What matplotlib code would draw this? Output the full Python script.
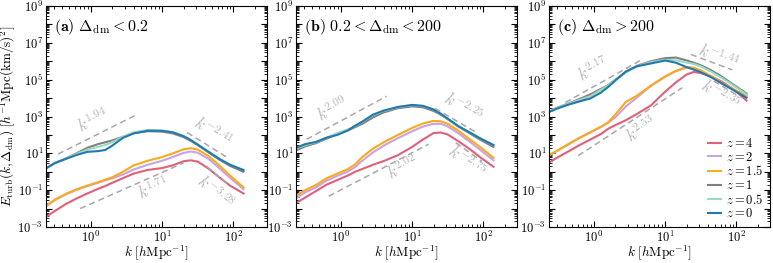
import numpy as np
import matplotlib
matplotlib.use("Agg")
import matplotlib.pyplot as plt
from matplotlib.ticker import LogLocator, NullFormatter

plt.rcParams['mathtext.fontset'] = 'cm'
plt.rcParams['font.family'] = 'serif'
plt.rcParams['font.serif'] = ['cmr10', 'DejaVu Serif']
plt.rcParams['axes.formatter.use_mathtext'] = True
plt.rcParams['axes.unicode_minus'] = False

# ---------------- data (log10 values) ----------------
logk = [-0.63, -0.5, -0.35, -0.2, -0.05, 0.1, 0.2, 0.3, 0.45, 0.6,
        0.8, 1.0, 1.15, 1.3, 1.4, 1.5, 1.65, 1.8, 1.95, 2.14]

redshifts = ['4', '2', '1.5', '1', '0.5', '0']
colors = ['#e0607a', '#c9a3e3', '#fbaa1c', '#808080', '#98dcc3', '#2478b0']

# panel (a)  Delta_dm < 0.2
a_z4 = [-2.45, -2.12, -1.75, -1.45, -1.18, -0.93, -0.78, -0.6, -0.35, -0.1,
        0.1, 0.2, 0.35, 0.57, 0.62, 0.55, 0.17, -0.3, -0.75, -1.18]
a_z2 = [-1.88, -1.53, -1.23, -0.98, -0.78, -0.6, -0.47, -0.36, -0.15, 0.12,
        0.38, 0.6, 0.8, 1.02, 1.1, 1.03, 0.7, 0.2, -0.32, -0.95]
a_z15 = [-1.85, -1.5, -1.2, -0.95, -0.75, -0.57, -0.43, -0.3, 0.0, 0.35,
         0.6, 0.8, 1.0, 1.22, 1.28, 1.2, 0.85, 0.35, -0.2, -0.85]
a_z1 = [0.18, 0.48, 0.72, 1.0, 1.3, 1.5, 1.6, 1.7, 1.9, 2.1,
        2.2, 2.18, 2.08, 1.88, 1.68, 1.44, 1.05, 0.66, 0.32, 0.0]
a_z05 = [0.18, 0.48, 0.72, 0.97, 1.2, 1.35, 1.45, 1.6, 1.9, 2.14,
         2.27, 2.24, 2.15, 1.94, 1.73, 1.48, 1.09, 0.71, 0.39, 0.1]
a_z0 = [0.18, 0.48, 0.7, 0.91, 1.08, 1.12, 1.18, 1.42, 1.84, 2.08,
        2.23, 2.22, 2.14, 1.93, 1.72, 1.47, 1.08, 0.7, 0.38, 0.09]

# panel (b)  0.2 < Delta_dm < 200
b_z4 = [-1.7, -1.4, -1.05, -0.7, -0.45, -0.2, 0.0, 0.15, 0.38, 0.58,
        0.9, 1.35, 1.75, 2.1, 2.13, 2.02, 1.65, 1.25, 0.8, 0.27]
b_z2 = [-1.45, -1.12, -0.85, -0.48, -0.22, 0.02, 0.25, 0.6, 1.05, 1.42,
        1.82, 2.2, 2.45, 2.6, 2.6, 2.46, 2.08, 1.65, 1.2, 0.62]
b_z15 = [-1.3, -1.0, -0.72, -0.35, -0.1, 0.15, 0.4, 0.8, 1.25, 1.6,
         2.0, 2.38, 2.62, 2.76, 2.74, 2.6, 2.22, 1.78, 1.35, 0.76]
b_z1 = [1.15, 1.38, 1.55, 1.8, 2.05, 2.25, 2.42, 2.6, 2.95, 3.22,
        3.45, 3.55, 3.5, 3.3, 3.1, 2.85, 2.45, 2.1, 1.75, 1.35]
b_z05 = [1.25, 1.45, 1.6, 1.85, 2.1, 2.3, 2.48, 2.7, 3.08, 3.3,
         3.5, 3.62, 3.57, 3.38, 3.15, 2.88, 2.47, 2.15, 1.82, 1.45]
b_z0 = [1.3, 1.5, 1.62, 1.85, 2.0, 2.25, 2.5, 2.72, 3.1, 3.32,
        3.52, 3.63, 3.58, 3.38, 3.15, 2.88, 2.47, 2.15, 1.82, 1.45]

# panel (c)  Delta_dm > 200
c_z4 = [0.5, 0.8, 1.12, 1.45, 1.75, 2.05, 2.33, 2.53, 2.8, 3.13,
        3.6, 4.35, 4.85, 5.28, 5.42, 5.36, 5.17, 4.88, 4.5, 3.87]
c_z2 = [0.88, 1.16, 1.5, 1.83, 2.13, 2.43, 2.66, 2.95, 3.55, 4.02,
        4.66, 5.16, 5.46, 5.66, 5.63, 5.48, 5.16, 4.78, 4.48, 4.1]
c_z15 = [0.9, 1.18, 1.52, 1.85, 2.15, 2.45, 2.68, 3.1, 3.8, 4.12,
         4.68, 5.18, 5.48, 5.68, 5.65, 5.5, 5.18, 4.8, 4.5, 4.12]
c_z1 = [3.25, 3.5, 3.72, 3.95, 4.2, 4.5, 4.7, 5.0, 5.4, 5.75,
        6.0, 6.17, 6.2, 6.05, 5.92, 5.78, 5.5, 5.15, 4.75, 4.25]
c_z05 = [3.25, 3.48, 3.7, 3.9, 4.1, 4.45, 4.68, 4.98, 5.42, 5.72,
         5.95, 6.08, 6.05, 5.93, 5.85, 5.72, 5.42, 5.08, 4.7, 4.2]
c_z0 = [3.25, 3.45, 3.65, 3.82, 3.98, 4.3, 4.6, 4.95, 5.45, 5.72,
        5.88, 6.04, 5.92, 5.68, 5.55, 5.4, 5.12, 4.78, 4.45, 4.02]

panel_series = [
    [a_z4, a_z2, a_z15, a_z1, a_z05, a_z0],
    [b_z4, b_z2, b_z15, b_z1, b_z05, b_z0],
    [c_z4, c_z2, c_z15, c_z1, c_z05, c_z0],
]

titles = [r'$(\mathbf{a})\ \Delta_{\rm dm} < 0.2$',
          r'$(\mathbf{b})\ 0.2 < \Delta_{\rm dm} < 200$',
          r'$(\mathbf{c})\ \Delta_{\rm dm} > 200$']

# guide power laws: (exponent, log k start, log k end, log E at start, label log k, label log E)
guides = [
    [(1.94, -0.46, 0.64, 0.96, 0.03, 2.8),
     (-2.41, 1.35, 1.93, 2.13, 1.72, 2.18),
     (1.71, -0.15, 1.30, -2.0, 0.88, -0.87),
     (-3.28, 1.63, 1.93, 0.27, 1.75, -1.09)],
    [(2.09, -0.48, 0.64, 1.76, -0.12, 3.44),
     (-2.25, 1.32, 1.91, 3.44, 1.72, 3.49),
     (2.02, -0.17, 1.23, -1.33, 0.87, 0.27),
     (-2.75, 1.61, 1.98, 1.58, 1.77, 0.58)],
    [(2.17, -0.40, 0.66, 3.76, -0.01, 5.6),
     (-1.44, 1.36, 1.94, 6.37, 1.75, 6.28),
     (2.53, -0.22, 1.24, 0.87, 0.66, 2.32),
     (-2.35, 1.68, 2.0, 4.93, 1.77, 4.21)],
]

xlim = (0.235, 295)
ylim = (1e-3, 1e9)

# ---------------- figure ----------------
fig = plt.figure(figsize=(7.73, 2.63), dpi=100)
W, H = 773, 263
lefts = [46, 296, 549]
aw, top, bot = 221, 6, 227

k = 10 ** np.array(logk)
for i in range(3):
    ax = fig.add_axes([lefts[i] / W, 1 - bot / H, aw / W, (bot - top) / H])
    ax.set_xscale('log')
    ax.set_yscale('log')
    ax.set_xlim(*xlim)
    ax.set_ylim(*ylim)
    for s, c, z in zip(panel_series[i], colors, redshifts):
        ax.plot(k, 10 ** np.array(s), color=c, lw=1.5, label=r'$z = %s$' % z)

    ax.figure.canvas.draw()
    for p, lk0, lk1, ly0, lkt, lyt in guides[i]:
        kk = np.array([10 ** lk0, 10 ** lk1])
        ee = 10 ** ly0 * (kk / kk[0]) ** p
        ax.plot(kk, ee, ls=(0, (4, 2.5)), color='#a8a8a8', lw=1.1)
        p0 = ax.transData.transform((kk[0], ee[0]))
        p1 = ax.transData.transform((kk[1], ee[1]))
        ang = np.degrees(np.arctan2(p1[1] - p0[1], p1[0] - p0[0]))
        ax.text(10 ** lkt, 10 ** lyt, r'$k^{%.2f}$' % p, color='#b8b8b8',
                fontsize=12, rotation=ang, ha='center', va='center',
                rotation_mode='anchor')

    ax.text(0.035, 0.905, titles[i], transform=ax.transAxes, fontsize=11.5,
            ha='left', va='center')

    ax.set_xlabel(r'$k\ [h{\rm Mpc}^{-1}]$', fontsize=9.5, labelpad=-1)
    ax.set_yticks([10.0 ** e for e in range(-3, 10)])
    ax.set_yticklabels([r'$10^{%d}$' % e if (e % 2 == 1) else '' for e in range(-3, 10)])
    ax.yaxis.set_minor_locator(LogLocator(base=10, subs=np.arange(2, 10), numticks=100))
    ax.yaxis.set_minor_formatter(NullFormatter())
    ax.xaxis.set_minor_locator(LogLocator(base=10, subs=np.arange(2, 10), numticks=100))
    ax.tick_params(which='both', direction='in', top=True, right=True, labelsize=9)
    ax.tick_params(which='major', length=4, width=0.8)
    ax.tick_params(which='minor', length=2, width=0.6)
    ax.tick_params(axis='x', pad=2)
    ax.tick_params(axis='y', pad=2)
    if i == 0:
        ax.set_ylabel(r'$E_{\rm turb}(k, \Delta_{\rm dm})\ [h^{-1}{\rm Mpc}({\rm km/s})^2]$',
                      fontsize=9.5, labelpad=0)
    if i == 2:
        ax.legend(loc='lower right', frameon=False, fontsize=9, handlelength=1.0,
                  handletextpad=0.4, labelspacing=0.05, borderaxespad=0.15)

fig.savefig('out.png', dpi=100)
